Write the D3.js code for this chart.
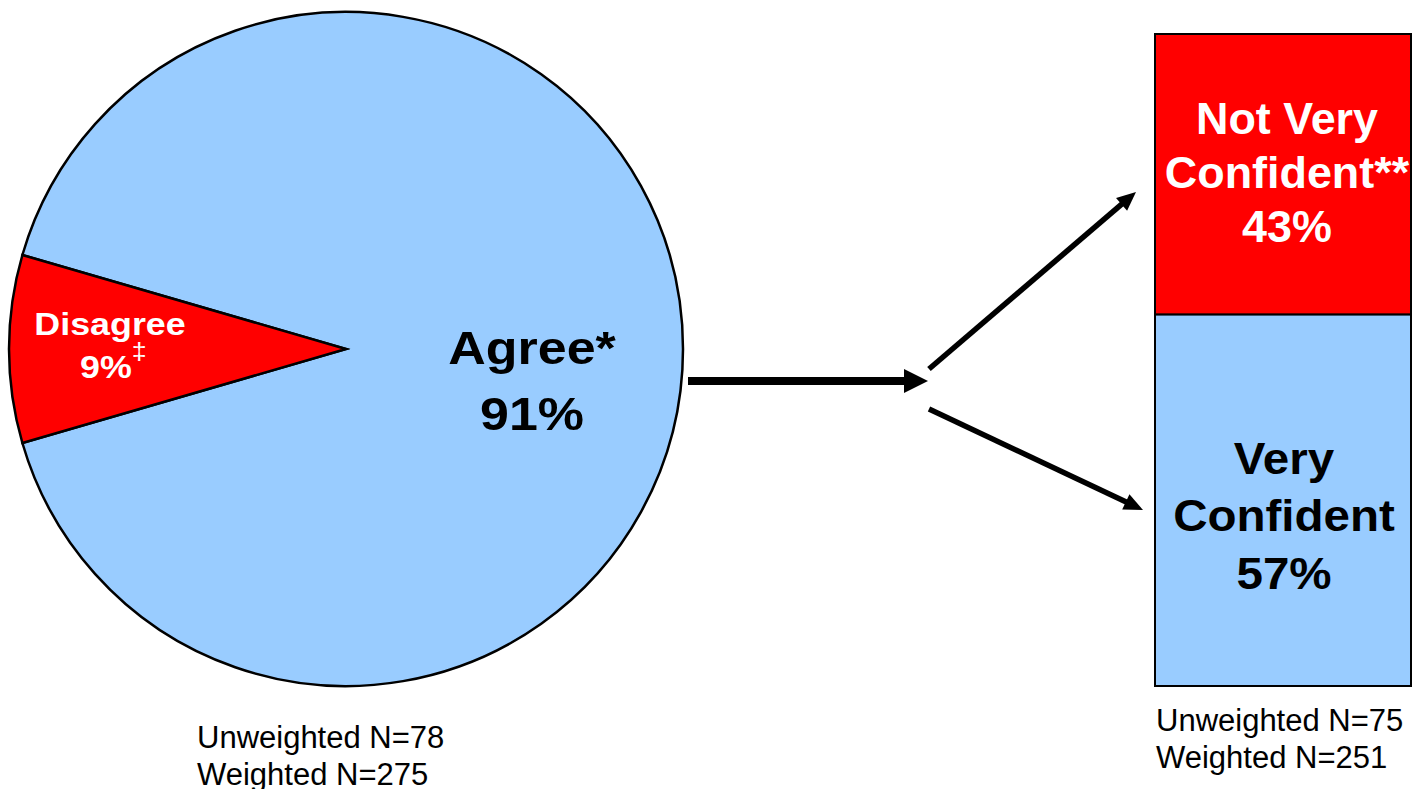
<!DOCTYPE html>
<html>
<head>
<meta charset="utf-8">
<script src="https://cdn.jsdelivr.net/npm/d3@7"></script>
<style>
  html, body { margin: 0; padding: 0; background: #fff; }
  svg { display: block; font-family: "Liberation Sans", Arial, sans-serif; }
</style>
</head>
<body>
<svg id="chart" width="1412" height="789"></svg>
<script>
// ---- data ----
const pieCategories = ["Agree", "Disagree"];
const pieValues = [91, 9];
const pieMarks = ["*", "‡"];
const pieN = ["Unweighted N=78", "Weighted N=275"];

const barCategories = ["Very Confident", "Not Very Confident"];
const barValues = [57, 43];
const barMarks = ["", "**"];
const barN = ["Unweighted N=75", "Weighted N=251"];

const colors = { agree: "#99CCFF", disagree: "#FF0000" };

// ---- drawing ----
const svg = d3.select("#chart");

// Pie
const cx = 346, cy = 349, r = 337;
const disFrac = pieValues[1] / d3.sum(pieValues);
const start = 1.5 * Math.PI + disFrac * Math.PI - 2 * Math.PI;
const pie = d3.pie().sort(null).startAngle(start).endAngle(start + 2 * Math.PI);
const arcs = pie(pieValues);
const arc = d3.arc().innerRadius(0).outerRadius(r);
const pg = svg.append("g").attr("transform", `translate(${cx},${cy})`);
pg.selectAll("path").data(arcs).join("path")
  .attr("d", arc)
  .attr("fill", (d, i) => i === 0 ? colors.agree : colors.disagree)
  .attr("stroke", "#000").attr("stroke-width", 2.5).attr("stroke-linejoin", "miter");

// Agree label
const ag = svg.append("g").attr("transform", "translate(532,0) scale(1.13,1)");
ag.append("text").attr("x", 0).attr("y", 364).attr("text-anchor", "middle")
  .attr("font-size", 46).attr("font-weight", "bold").attr("fill", "#000")
  .text(pieCategories[0] + pieMarks[0]);
ag.append("text").attr("x", 0).attr("y", 430).attr("text-anchor", "middle")
  .attr("font-size", 46).attr("font-weight", "bold").attr("fill", "#000")
  .text(pieValues[0] + "%");

// Disagree label
const dg = svg.append("g").attr("transform", "translate(110,0) scale(1.12,1)");
dg.append("text").attr("x", 0).attr("y", 335).attr("text-anchor", "middle")
  .attr("font-size", 32).attr("font-weight", "bold").attr("fill", "#fff")
  .text(pieCategories[1]);
const t2 = dg.append("text").attr("x", 3).attr("y", 378).attr("text-anchor", "middle")
  .attr("font-size", 32).attr("font-weight", "bold").attr("fill", "#fff");
t2.append("tspan").text(pieValues[1] + "%");
t2.append("tspan").attr("font-size", 24).attr("font-weight", "normal").attr("dy", -18).text(pieMarks[1]);

// Pie N labels
svg.append("g").selectAll("text").data(pieN).join("text")
  .attr("x", 197).attr("y", (d, i) => 748 + i * 37)
  .attr("font-size", 31).attr("fill", "#000").text(d => d);

// Stacked bar
const bx0 = 1155, bx1 = 1411;
const y = d3.scaleLinear().domain([0, 100]).range([686, 34]);
const stacked = [];
let acc = 0;
barValues.forEach((v, i) => { stacked.push({ cat: barCategories[i], v, y0: acc, y1: acc + v, i }); acc += v; });
svg.append("g").selectAll("rect").data(stacked).join("rect")
  .attr("x", bx0).attr("width", bx1 - bx0)
  .attr("y", d => y(d.y1)).attr("height", d => y(d.y0) - y(d.y1))
  .attr("fill", d => d.i === 0 ? colors.agree : colors.disagree)
  .attr("stroke", "#000").attr("stroke-width", 2);

// Bar labels
// Very Confident (bottom, black)
const vc = stacked[0];
const vcMid = (y(vc.y0) + y(vc.y1)) / 2;
const vcLines = ["Very", "Confident", vc.v + "%"];
svg.append("g").attr("transform", "translate(1284,0) scale(1.08,1)")
  .selectAll("text").data(vcLines).join("text")
  .attr("x", 0).attr("y", (d, i) => vcMid + 31 + (i - 1) * 57.5)
  .attr("text-anchor", "middle").attr("font-size", 44).attr("font-weight", "bold")
  .attr("fill", "#000").text(d => d);
// Not Very Confident (top, white)
const nv = stacked[1];
const nvMid = (y(nv.y0) + y(nv.y1)) / 2;
const nvLines = ["Not Very", "Confident" + barMarks[1], nv.v + "%"];
svg.append("g").attr("transform", "translate(1287,0) scale(1.02,1)")
  .selectAll("text").data(nvLines).join("text")
  .attr("x", 0).attr("y", (d, i) => nvMid + 14 + (i - 1) * 54)
  .attr("text-anchor", "middle").attr("font-size", 44).attr("font-weight", "bold")
  .attr("fill", "#fff").text(d => d);

// Bar N labels
svg.append("g").selectAll("text").data(barN).join("text")
  .attr("x", 1156).attr("y", (d, i) => 731 + i * 37)
  .attr("font-size", 31).attr("fill", "#000").text(d => d);

// Arrows
function arrow(x1, y1, x2, y2, w, hl, hw) {
  const ang = Math.atan2(y2 - y1, x2 - x1);
  const bx = x2 - hl * Math.cos(ang), by = y2 - hl * Math.sin(ang);
  svg.append("line").attr("x1", x1).attr("y1", y1).attr("x2", bx + Math.cos(ang)).attr("y2", by + Math.sin(ang))
    .attr("stroke", "#000").attr("stroke-width", w);
  const px = -Math.sin(ang), py = Math.cos(ang);
  svg.append("path").attr("d",
    `M${x2},${y2}L${bx + px * hw / 2},${by + py * hw / 2}L${bx - px * hw / 2},${by - py * hw / 2}Z`)
    .attr("fill", "#000");
}
arrow(688, 381, 928, 381, 8, 24, 24);
arrow(929, 369, 1136, 192, 5.5, 19, 17);
arrow(929, 409, 1143, 510, 5.5, 19, 17);
</script>
</body>
</html>
